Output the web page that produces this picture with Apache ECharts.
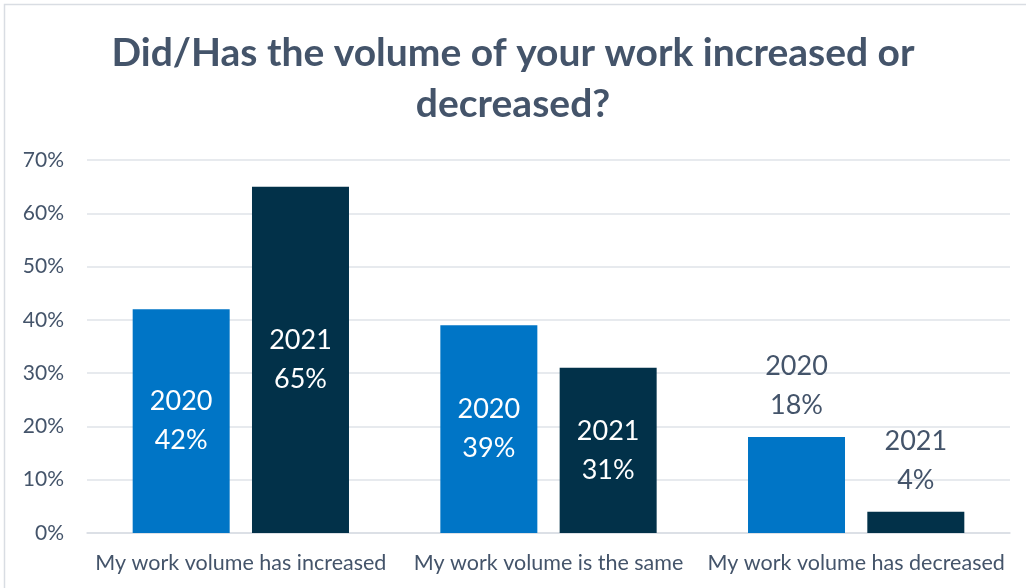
<!DOCTYPE html>
<html>
<head>
<meta charset="utf-8">
<style>
  html, body { margin: 0; padding: 0; background: #ffffff; }
  #chart { width: 1026px; height: 588px; }
</style>
<script src="https://cdn.jsdelivr.net/npm/echarts@6/dist/echarts.min.js"></script>
</head>
<body>
<div id="chart"></div>
<script>
// Survey answers and the share of respondents (percent) per year
const categories = [
  'My work volume has increased',
  'My work volume is the same',
  'My work volume has decreased'
];
const years = ['2020', '2021'];
const values2020 = [42, 39, 18];
const values2021 = [65, 31, 4];
const yTicks = { min: 0, max: 70, interval: 10 };

const textDark = '#44546a';
const colors = ['#0075c6', '#023149'];
const fontFamily = 'Lato, "Open Sans", sans-serif';

// Short bars carry their label above; taller ones carry it inside, in white
function buildData(values, year) {
  return values.map(v => {
    const inside = v >= 25;
    return {
      value: v,
      label: {
        show: true,
        position: inside ? 'inside' : 'top',
        distance: 12,
        color: inside ? '#ffffff' : textDark,
        fontSize: 27,
        lineHeight: 39,
        fontFamily: fontFamily,
        formatter: year + '\n' + v + '%'
      }
    };
  });
}

const chart = echarts.init(document.getElementById('chart'), null, { renderer: 'canvas' });

chart.setOption({
  backgroundColor: '#ffffff',
  animation: false,
  title: {
    text: 'Did/Has the volume of your work increased or\ndecreased?',
    left: 'center',
    top: 23,
    textStyle: {
      color: textDark,
      fontSize: 39,
      fontWeight: 'bold',
      fontFamily: fontFamily,
      lineHeight: 51
    }
  },
  graphic: [{
    type: 'rect',
    shape: { x: 4.5, y: 4.5, width: 1030, height: 600 },
    style: { fill: 'none', stroke: '#d9dde3', lineWidth: 1.5 },
    silent: true
  }],
  grid: { left: 87, right: 16, top: 160, bottom: 55, containLabel: false },
  xAxis: {
    type: 'category',
    data: categories,
    axisTick: { show: false },
    axisLine: { show: true, lineStyle: { color: '#d9dde3', width: 1.5 } },
    axisLabel: {
      interval: 0,
      color: textDark,
      fontSize: 21.5,
      fontFamily: fontFamily,
      margin: 19
    }
  },
  yAxis: {
    type: 'value',
    min: yTicks.min,
    max: yTicks.max,
    interval: yTicks.interval,
    axisLine: { show: false },
    axisTick: { show: false },
    splitLine: { lineStyle: { color: '#dfe3e8', width: 1.5 } },
    axisLabel: {
      color: textDark,
      fontSize: 21,
      fontFamily: fontFamily,
      margin: 23,
      formatter: '{value}%'
    }
  },
  series: [
    {
      name: years[0],
      type: 'bar',
      data: buildData(values2020, years[0]),
      barWidth: 97,
      barGap: '23%',
      itemStyle: { color: colors[0] }
    },
    {
      name: years[1],
      type: 'bar',
      data: buildData(values2021, years[1]),
      barWidth: 97,
      barGap: '23%',
      itemStyle: { color: colors[1] }
    }
  ]
});
</script>
</body>
</html>
